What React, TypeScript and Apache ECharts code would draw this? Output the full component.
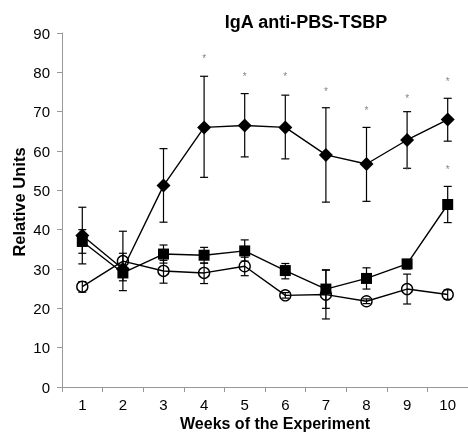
import React, { useEffect, useRef } from "react";
import * as echarts from "echarts";

const weeks = ["1", "2", "3", "4", "5", "6", "7", "8", "9", "10"];

const diamondMean = [38.5, 30, 51.2, 66, 66.5, 66, 59, 56.7, 62.8, 68];
const diamondLow = [31.3, 24.5, 41.9, 53.3, 58.5, 58, 47, 47.2, 55.6, 62.5];
const diamondHigh = [45.7, 39.6, 60.6, 79, 74.6, 74.2, 71, 66, 70, 73.4];

const squareMean = [37, 29, 33.8, 33.5, 34.6, 29.6, 24.9, 27.6, 31.3, 46.4];
const squareLow = [34, 27, 31.5, 31.5, 32, 27.5, 20, 24.9, 30, 41.8];
const squareHigh = [40, 31, 36.1, 35.5, 37.4, 31.4, 29.8, 30.3, 32.4, 51];

const circleMean = [25.5, 32, 29.5, 29, 30.7, 23.3, 23.5, 21.8, 24.9, 23.5];
const circleLow = [24.1, 30, 26.4, 26.3, 28.3, 22.6, 17.3, 21.2, 21.1, 22.3];
const circleHigh = [26.8, 34, 32.2, 31.5, 33, 24, 29.7, 22.4, 28.7, 24.7];

// significance markers: [week index, value]
const starPoints = [
  [3, 84.1], [4, 79.4], [5, 79.4], [6, 75.6], [7, 70.8], [8, 73.8], [9, 78.2],
  [8, 55.6], [9, 55.9],
];

const yTicks = { min: 0, max: 90, interval: 10 };

function errData(low: number[], high: number[]) {
  return low.map((l, i) => [i, l, high[i]]);
}

function errorSeries(low: number[], high: number[]) {
  return {
    type: "custom",
    z: 3,
    data: errData(low, high),
    renderItem: (params: any, api: any) => {
      const x = api.value(0);
      const lo = api.coord([x, api.value(1)]);
      const hi = api.coord([x, api.value(2)]);
      const cap = 4;
      const style = { stroke: "#000", lineWidth: 1.2 };
      return {
        type: "group",
        children: [
          { type: "line", shape: { x1: lo[0], y1: lo[1], x2: hi[0], y2: hi[1] }, style },
          { type: "line", shape: { x1: hi[0] - cap, y1: hi[1], x2: hi[0] + cap, y2: hi[1] }, style },
          { type: "line", shape: { x1: lo[0] - cap, y1: lo[1], x2: lo[0] + cap, y2: lo[1] }, style },
        ],
      };
    },
  };
}

export default function App() {
  const ref = useRef<HTMLDivElement>(null);
  useEffect(() => {
    if (!ref.current) return;
    const chart = echarts.init(ref.current, null, { renderer: "svg" });
    const font = "'Liberation Sans', Arial, sans-serif";
    chart.setOption({
      animation: false,
      textStyle: { fontFamily: font },
      grid: { left: 62, top: 33, width: 414, height: 354 },
      title: {
        text: "IgA anti-PBS-TSBP",
        left: 301,
        top: 8,
        textAlign: "center",
        textStyle: { fontFamily: font, fontSize: 18, fontWeight: "bold", color: "#000" },
      },
      xAxis: {
        type: "category",
        data: weeks,
        boundaryGap: true,
        axisLine: { lineStyle: { color: "#999", width: 1 } },
        axisTick: { show: true, length: 5, lineStyle: { color: "#999" } },
        axisLabel: { color: "#000", fontSize: 15, margin: 10, fontFamily: font },
        splitLine: { show: false },
      },
      yAxis: {
        type: "value",
        min: yTicks.min,
        max: yTicks.max,
        interval: yTicks.interval,
        axisLine: { show: true, lineStyle: { color: "#999", width: 1 } },
        axisTick: { show: true, length: 5, lineStyle: { color: "#999" } },
        axisLabel: { color: "#000", fontSize: 15, margin: 12, fontFamily: font },
        splitLine: { show: false },
      },
      graphic: [
        {
          type: "text",
          x: 19,
          y: 202,
          rotation: Math.PI / 2,
          style: {
            text: "Relative Units",
            fontFamily: font,
            fontSize: 16.5,
            fontWeight: "bold",
            fill: "#000",
            align: "center",
            verticalAlign: "middle",
          },
        },
        {
          type: "text",
          x: 275,
          y: 423,
          style: {
            text: "Weeks of the Experiment",
            fontFamily: font,
            fontSize: 16,
            fontWeight: "bold",
            fill: "#000",
            align: "center",
            verticalAlign: "middle",
          },
        },
      ],
      series: [
        errorSeries(diamondLow, diamondHigh),
        errorSeries(squareLow, squareHigh),
        errorSeries(circleLow, circleHigh),
        {
          type: "line",
          data: circleMean,
          z: 4,
          symbol: "circle",
          symbolSize: 11,
          lineStyle: { color: "#000", width: 1.4 },
          itemStyle: { color: "rgba(0,0,0,0)", borderColor: "#000", borderWidth: 1.4 },
        },
        {
          type: "line",
          data: squareMean,
          z: 5,
          symbol: "rect",
          symbolSize: 11,
          lineStyle: { color: "#000", width: 1.4 },
          itemStyle: { color: "#000" },
        },
        {
          type: "line",
          data: diamondMean,
          z: 6,
          symbol: "diamond",
          symbolSize: 14,
          lineStyle: { color: "#000", width: 1.4 },
          itemStyle: { color: "#000" },
        },
        {
          type: "scatter",
          data: starPoints,
          symbolSize: 0,
          z: 7,
          label: {
            show: true,
            position: "inside",
            formatter: "*",
            color: "#666",
            fontSize: 10,
            fontFamily: font,
            offset: [0, 2],
          },
        },
      ],
    });
    return () => chart.dispose();
  }, []);
  return (
    <div
      ref={ref}
      style={{ position: "fixed", left: 0, top: 0, width: 468, height: 433 }}
    />
  );
}
